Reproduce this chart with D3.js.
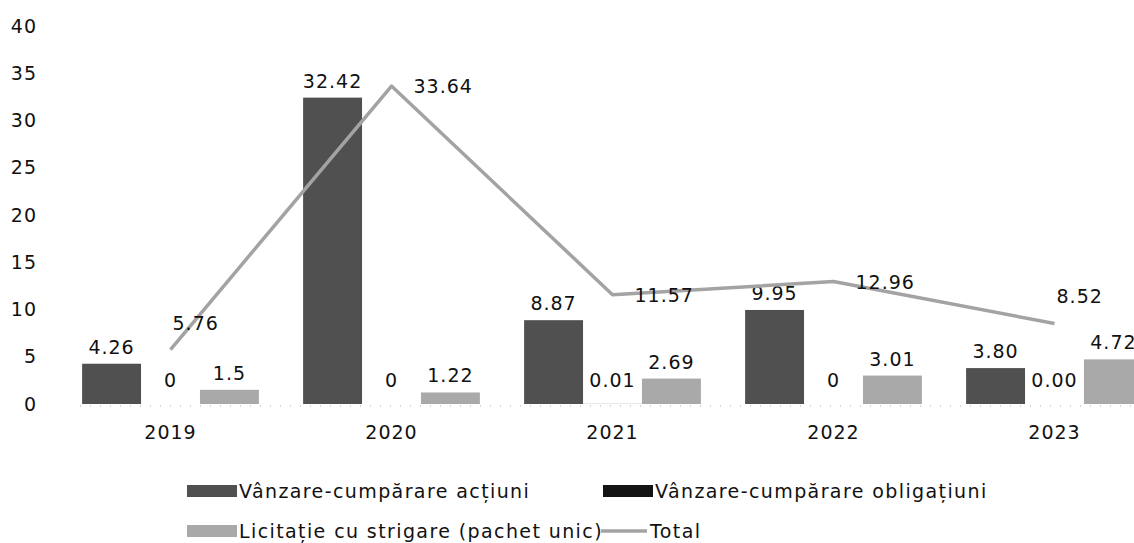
<!doctype html>
<html>
<head>
<meta charset="utf8">
<script src="https://d3js.org/d3.v7.min.js"></script>
<style>
    body { margin: 0; background: #fff; }
    text { font-family: "DejaVu Sans", sans-serif; fill: #111; }
</style>
</head>
<body>
<svg width="1134" height="543"></svg>
<script>
    var years = ["2019", "2020", "2021", "2022", "2023"];
    var seriesNames = ["Vânzare-cumpărare acțiuni", "Vânzare-cumpărare obligațiuni", "Licitație cu strigare (pachet unic)"];
    var actiuni = [4.26, 32.42, 8.87, 9.95, 3.80];
    var obligatiuni = [0, 0, 0.01, 0, 0.00];
    var licitatie = [1.5, 1.22, 2.69, 3.01, 4.72];
    var total = [5.76, 33.64, 11.57, 12.96, 8.52];
    var actiuniLabels = ["4.26", "32.42", "8.87", "9.95", "3.80"];
    var obligatiuniLabels = ["0", "0", "0.01", "0", "0.00"];
    var licitatieLabels = ["1.5", "1.22", "2.69", "3.01", "4.72"];
    var totalLabels = ["5.76", "33.64", "11.57", "12.96", "8.52"];
    var yTicks = [0, 5, 10, 15, 20, 25, 30, 35, 40];

    var colors = ["#505050", "#141414", "#a9a9a9"];
    var lineColor = "#a3a3a3";

    var svg = d3.select("svg");

    var x = d3.scaleBand().domain(years).range([60, 1165]).paddingInner(0.2).paddingOuter(0.1);
    var xs = d3.scaleBand().domain([0, 1, 2]).range([0, x.bandwidth()]);
    var y = d3.scaleLinear().domain([0, 40]).range([404, 26]);

    // y axis labels, no axis line
    var yAxis = svg.append("g")
        .attr("transform", "translate(37,0)")
        .call(d3.axisLeft(y).tickValues(yTicks).tickSize(0).tickPadding(0));
    yAxis.select(".domain").remove();
    yAxis.selectAll("text")
        .style("font-size", "19px")
        .style("letter-spacing", "1px")
        .attr("fill", "#111");

    // dotted baseline
    svg.append("line")
        .attr("x1", x.range()[0] + 20).attr("x2", 1134)
        .attr("y1", y(0) + 2).attr("y2", y(0) + 2)
        .attr("stroke", "#aaa")
        .attr("stroke-width", 1)
        .attr("stroke-dasharray", "1,9");

    // x axis labels
    var xAxis = svg.append("g")
        .attr("transform", "translate(0," + (y(0) + 14) + ")")
        .call(d3.axisBottom(x).tickSize(0).tickPadding(8));
    xAxis.select(".domain").remove();
    xAxis.selectAll("text")
        .style("font-size", "19px")
        .style("letter-spacing", "1px")
        .attr("fill", "#111");

    var series = [actiuni, obligatiuni, licitatie];
    var seriesLabels = [actiuniLabels, obligatiuniLabels, licitatieLabels];

    var bars = [];
    series.forEach(function(vals, s) {
        vals.forEach(function(v, i) {
            bars.push({ s: s, year: years[i], v: v, label: seriesLabels[s][i] });
        });
    });

    var g = svg.append("g");

    g.selectAll("rect.bar")
        .data(bars)
        .enter().append("rect")
        .attr("class", "bar")
        .attr("x", function(d) { return x(d.year) + xs(d.s); })
        .attr("width", xs.bandwidth())
        .attr("y", function(d) { return y(d.v); })
        .attr("height", function(d) { return y(0) - y(d.v); })
        .attr("fill", function(d) { return colors[d.s]; });

    g.selectAll("text.barlabel")
        .data(bars)
        .enter().append("text")
        .attr("class", "barlabel")
        .attr("x", function(d) { return x(d.year) + xs(d.s) + xs.bandwidth() / 2; })
        .attr("y", function(d) { return Math.min(y(d.v) - 10, y(0) - 17); })
        .attr("text-anchor", "middle")
        .style("font-size", "19px")
        .style("letter-spacing", "1px")
        .text(function(d) { return d.label; });

    // total line
    var line = d3.line()
        .x(function(d, i) { return x(years[i]) + x.bandwidth() / 2; })
        .y(function(d) { return y(d); });

    svg.append("path")
        .datum(total)
        .attr("fill", "none")
        .attr("stroke", lineColor)
        .attr("stroke-width", 3.5)
        .attr("stroke-linejoin", "round")
        .attr("d", line);

    svg.selectAll("text.totlabel")
        .data(total)
        .enter().append("text")
        .attr("class", "totlabel")
        .attr("x", function(d, i) { return x(years[i]) + x.bandwidth() / 2 + (d < 10 ? 2 : 22); })
        .attr("y", function(d) { return y(d) + 7 - (d < 10 ? 27 : 0); })
        .style("font-size", "19px")
        .style("letter-spacing", "1px")
        .text(function(d, i) { return totalLabels[i]; });

    // legend
    var legendItems = [
        { name: seriesNames[0], type: "rect", color: colors[0], x: 187, y: 491 },
        { name: seriesNames[1], type: "rect", color: colors[1], x: 603, y: 491 },
        { name: seriesNames[2], type: "rect", color: colors[2], x: 187, y: 531 },
        { name: "Total", type: "line", color: lineColor, x: 601, y: 531 }
    ];

    var lg = svg.append("g").selectAll("g")
        .data(legendItems)
        .enter().append("g")
        .attr("transform", function(d) { return "translate(" + d.x + "," + d.y + ")"; });

    lg.filter(function(d) { return d.type === "rect"; })
        .append("rect")
        .attr("x", 0).attr("y", -6)
        .attr("width", 50).attr("height", 12)
        .attr("fill", function(d) { return d.color; });

    lg.filter(function(d) { return d.type === "line"; })
        .append("line")
        .attr("x1", 0).attr("x2", 46)
        .attr("y1", 0).attr("y2", 0)
        .attr("stroke", function(d) { return d.color; })
        .attr("stroke-width", 3.5);

    lg.append("text")
        .attr("x", function(d) { return d.type === "line" ? 49 : 52; })
        .attr("y", 7)
        .style("font-size", "19px")
        .style("letter-spacing", "1.4px")
        .text(function(d) { return d.name; });
</script>
</body>
</html>
